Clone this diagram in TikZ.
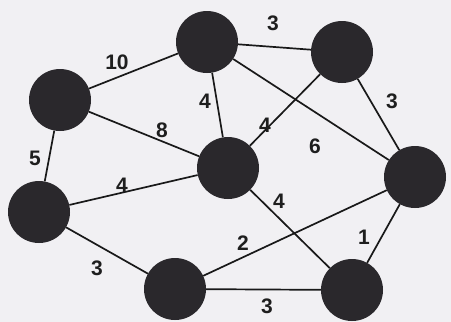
\documentclass[tikz,border=0pt]{standalone}
\usepackage{fontspec}
\setmainfont{Liberation Sans}
\definecolor{bgcol}{RGB}{241,240,243}
\definecolor{ballcol}{RGB}{42,40,44}
\definecolor{txtcol}{RGB}{30,30,30}
\begin{document}
\begin{tikzpicture}[x=1pt,y=-1pt,
  vert/.style={circle,minimum size=62pt,inner sep=0pt,fill=ballcol},
  edge/.style={line width=1.7pt,black!90},
  wt/.style={font=\fontsize{21}{22}\selectfont\bfseries,text=txtcol}]
\fill[bgcol] (0,0) rectangle (451,322);
\useasboundingbox (0,0) rectangle (451,322);
\node[vert] (A) at (207,42) {};
\node[vert] (B) at (342,52) {};
\node[vert] (C) at (60,100) {};
\node[vert] (D) at (228,168) {};
\node[vert] (E) at (415,177) {};
\node[vert] (F) at (39,212) {};
\node[vert] (G) at (175,289) {};
\node[vert] (H) at (352,290) {};
\draw[edge] (A) -- (B);
\draw[edge] (A) -- (C);
\draw[edge] (A) -- (D);
\draw[edge] (A) -- (E);
\draw[edge] (B) -- (D);
\draw[edge] (B) -- (E);
\draw[edge] (C) -- (D);
\draw[edge] (C) -- (F);
\draw[edge] (F) -- (D);
\draw[edge] (F) -- (G);
\draw[edge] (G) -- (E);
\draw[edge] (D) -- (H);
\draw[edge] (E) -- (H);
\draw[edge] (G) -- (H);
\node[wt] (w1) at (273,23) {3};
\node[wt] (w2) at (117,62) {10};
\node[wt] (w3) at (205,101) {4};
\node[wt] (w4) at (315,146) {6};
\node[wt] (w5) at (265,125) {4};
\node[wt] (w6) at (392,101) {3};
\node[wt] (w7) at (162,130) {8};
\node[wt] (w8) at (35,158) {5};
\node[wt] (w9) at (122,185) {4};
\node[wt] (w10) at (97,268) {3};
\node[wt] (w11) at (243,243) {2};
\node[wt] (w12) at (279,201) {4};
\node[wt] (w13) at (364,237) {1};
\node[wt] (w14) at (267,306) {3};
\end{tikzpicture}
\end{document}
